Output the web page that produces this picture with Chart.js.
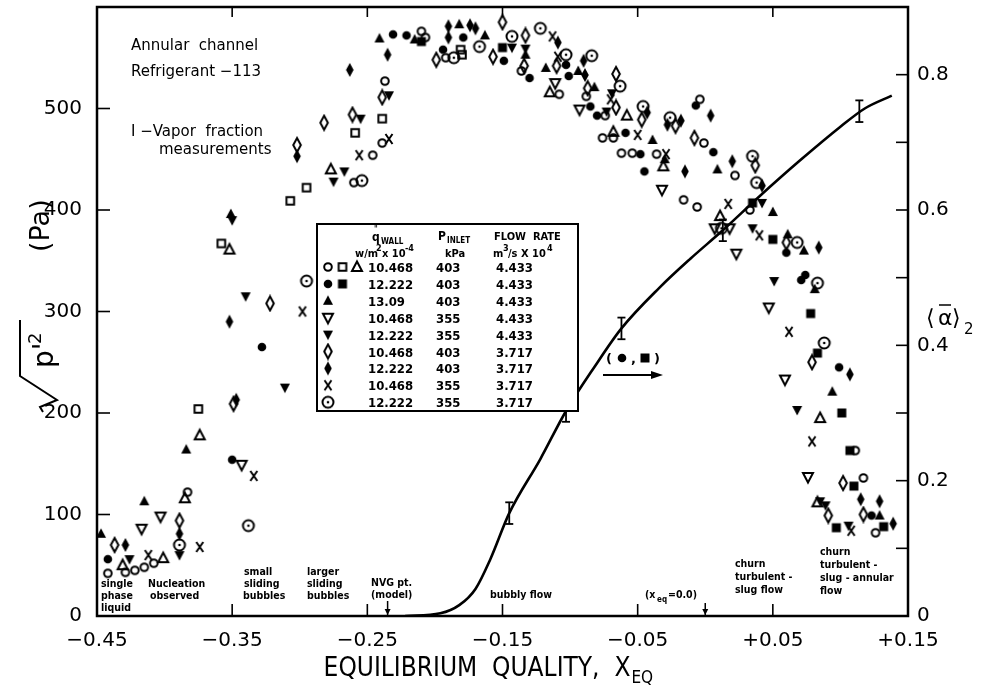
<!DOCTYPE html>
<html>
<head>
<meta charset="utf-8">
<script src="https://cdn.jsdelivr.net/npm/chart.js@4.4.1/dist/chart.umd.min.js"></script>
<style>
  html, body { margin: 0; padding: 0; background: #fff; }
  canvas { display: block; }
</style>
</head>
<body>
<canvas id="myChart" width="982" height="687"></canvas>
<script>
// ---- data (x = equilibrium quality, y = rms pressure in Pa) ----
// 10.468 / 403 / 4.433
const openCircleX = [-0.237,-0.239,-0.246,-0.260,-0.383,-0.408,-0.415,-0.422,-0.429,-0.442,-0.210,-0.207,-0.192,-0.136,-0.108,-0.088,-0.074,-0.076,-0.068,-0.062,-0.054,-0.036,-0.016,-0.006,0.033,0.111,0.117,0.126,-0.004,-0.001,0.022];
const openCircleY = [527,466,454,427,122,52,48,45,43,42,576,570,550,537,514,512,493,471,471,456,456,455,410,403,400,163,136,82,509,466,434];
const openSquareX = [-0.239,-0.259,-0.295,-0.307,-0.375,-0.181,-0.180,-0.358];
const openSquareY = [490,476,422,409,204,558,553,367];
const openTriX = [-0.277,-0.374,-0.385,-0.401,-0.431,-0.115,-0.058,-0.068,-0.031,0.011,0.085,0.083,-0.352];
const openTriY = [440,178,116,57,50,516,493,477,443,394,195,112,361];
// 12.222 / 403 / 4.433
const filledCircleX = [-0.231,-0.350,-0.442,-0.221,-0.179,-0.194,-0.149,-0.130,-0.103,-0.101,-0.085,-0.080,-0.059,-0.048,-0.045,0.060,0.074,0.071,0.099,0.123,-0.328,-0.007,0.006];
const filledCircleY = [573,154,56,572,570,558,547,530,543,532,502,493,476,455,438,358,336,331,245,99,265,503,457];
const filledSquareX = [-0.210,-0.150,0.035,0.050,0.078,0.083,0.101,0.107,0.110,0.097,0.132];
const filledSquareY = [566,560,407,371,298,259,200,163,128,87,88];
// 13.09 / 403 / 4.433
const filledTriX = [-0.241,-0.384,-0.415,-0.447,-0.215,-0.182,-0.163,-0.133,-0.118,-0.094,-0.082,-0.039,-0.030,0.050,0.061,0.073,0.081,0.094,0.129,-0.351,0.009];
const filledTriY = [569,164,113,81,568,583,572,553,540,537,521,469,450,398,376,360,322,221,99,396,440];
// 10.468 / 355 / 4.433
const openDownTriX = [-0.343,-0.403,-0.417,-0.111,-0.093,-0.032,0.007,0.018,0.023,0.047,0.059,0.076];
const openDownTriY = [149,98,86,525,499,420,382,382,357,304,233,137];
// 12.222 / 355 / 4.433
const filledDownTriX = [-0.234,-0.255,-0.275,-0.267,-0.389,-0.426,-0.143,-0.133,-0.073,-0.069,0.042,0.035,0.051,0.068,0.085,0.089,0.106,-0.350,-0.340,-0.311];
const filledDownTriY = [513,490,428,438,60,56,560,559,497,515,407,382,330,203,113,109,89,390,315,225];
// 10.468 / 403 / 3.717
const openDiamondX = [-0.239,-0.282,-0.261,-0.302,-0.349,-0.389,-0.437,-0.150,-0.133,-0.199,-0.157,-0.134,-0.110,-0.087,-0.066,-0.066,-0.047,-0.022,0.060,0.079,0.102,0.091,0.117,-0.322,-0.008,0.037];
const openDiamondY = [511,486,494,464,209,94,70,585,572,548,551,542,542,520,501,534,489,483,368,250,131,99,100,308,471,444];
// 12.222 / 403 / 3.717
const filledDiamondX = [-0.235,-0.263,-0.302,-0.347,-0.389,-0.429,-0.190,-0.174,-0.170,-0.190,-0.109,-0.090,-0.089,-0.043,-0.018,-0.028,-0.015,0.084,0.107,0.115,0.129,0.139,-0.352,0.004,0.020,0.042];
const filledDiamondY = [553,538,453,213,81,70,581,582,579,570,565,547,533,496,488,484,438,363,238,115,113,91,290,493,448,424];
// 10.468 / 355 / 3.717
const crossX = [-0.256,-0.234,-0.334,-0.374,-0.412,-0.113,-0.109,-0.070,-0.050,-0.029,0.017,0.040,0.062,0.079,0.108,-0.298];
const crossY = [454,470,138,68,60,571,551,509,474,455,406,375,280,172,84,300];
// 12.222 / 355 / 3.717
const dotCircleX = [-0.254,-0.338,-0.389,-0.143,-0.122,-0.167,-0.186,-0.103,-0.084,-0.063,-0.046,-0.026,0.012,0.068,0.083,0.088,-0.295,0.035,0.038];
const dotCircleY = [429,89,70,571,579,561,550,553,552,522,502,491,382,368,328,269,330,453,427];

// vapour fraction model curve and measurements (right axis)
const curveX = [-0.222,-0.196,-0.182,-0.170,-0.159,-0.145,-0.122,-0.103,-0.082,-0.062,-0.034,-0.011,0.013,0.040,0.070,0.100,0.118,0.138];
const curveA = [0,0.004,0.016,0.040,0.084,0.152,0.232,0.303,0.368,0.425,0.485,0.528,0.570,0.620,0.673,0.723,0.750,0.769];
const errX = [-0.145,-0.103,-0.062,0.013,0.114];
const errA = [0.152,0.303,0.425,0.570,0.746];
const errHalf = 0.016;

// ticks
const xTickVals = [-0.45,-0.35,-0.25,-0.15,-0.05,0.05,0.15];
const xTickLabels = ['\u22120.45','\u22120.35','\u22120.25','\u22120.15','\u22120.05','+0.05','+0.15'];
const yTickVals = [0,100,200,300,400,500];
const y2TickVals = [0,0.2,0.4,0.6,0.8];
const y2TickLabels = ['0','0.2','0.4','0.6','0.8'];
const y2MinorVals = [0.1,0.2,0.3,0.4,0.5,0.6,0.7,0.8];

// legend table
const legendQ = ['10.468','12.222','13.09','10.468','12.222','10.468','12.222','10.468','12.222'];
const legendP = ['403','403','403','355','355','403','403','355','355'];
const legendFlow = ['4.433','4.433','4.433','4.433','4.433','3.717','3.717','3.717','3.717'];

function marker(kind, filled) {
  const c = document.createElement('canvas');
  c.width = 18; c.height = 18;
  const g = c.getContext('2d');
  g.translate(9, 9);
  g.strokeStyle = '#000';
  g.fillStyle = '#000';
  g.lineWidth = 2;
  g.beginPath();
  if (kind == 'circle') g.arc(0, 0, filled ? 4.3 : 3.8, 0, Math.PI * 2);
  if (kind == 'square') filled ? g.rect(-4.5, -4.5, 9, 9) : g.rect(-3.8, -3.8, 7.6, 7.6);
  if (kind == 'tri') { g.moveTo(0, -5.5); g.lineTo(5, 4); g.lineTo(-5, 4); g.closePath(); }
  if (kind == 'dtri') { g.moveTo(0, 5.5); g.lineTo(5, -4); g.lineTo(-5, -4); g.closePath(); }
  if (kind == 'diamond') { g.moveTo(0, -7); g.lineTo(3.8, 0); g.lineTo(0, 7); g.lineTo(-3.8, 0); g.closePath(); }
  if (kind == 'cross') { g.moveTo(-3.5, -5); g.lineTo(3.5, 5); g.moveTo(3.5, -5); g.lineTo(-3.5, 5); }
  if (kind == 'dot') g.arc(0, 0, 5.5, 0, Math.PI * 2);
  if (filled) g.fill(); else g.stroke();
  if (kind == 'dot') { g.beginPath(); g.arc(0, 0, 1.3, 0, Math.PI * 2); g.fill(); }
  return c;
}

const mk = {
  oc: marker('circle', false), os: marker('square', false), ot: marker('tri', false),
  fc: marker('circle', true), fs: marker('square', true), ft: marker('tri', true),
  od: marker('dtri', false), fd: marker('dtri', true),
  odi: marker('diamond', false), fdi: marker('diamond', true),
  x: marker('cross', false), dot: marker('dot', false)
};

const series = [
  { xs: openCircleX, ys: openCircleY, m: mk.oc },
  { xs: openSquareX, ys: openSquareY, m: mk.os },
  { xs: openTriX, ys: openTriY, m: mk.ot },
  { xs: filledCircleX, ys: filledCircleY, m: mk.fc },
  { xs: filledSquareX, ys: filledSquareY, m: mk.fs },
  { xs: filledTriX, ys: filledTriY, m: mk.ft },
  { xs: openDownTriX, ys: openDownTriY, m: mk.od },
  { xs: filledDownTriX, ys: filledDownTriY, m: mk.fd },
  { xs: openDiamondX, ys: openDiamondY, m: mk.odi },
  { xs: filledDiamondX, ys: filledDiamondY, m: mk.fdi },
  { xs: crossX, ys: crossY, m: mk.x },
  { xs: dotCircleX, ys: dotCircleY, m: mk.dot }
];

const datasets = series.map(s => ({
  type: 'scatter',
  data: s.xs.map((v, i) => ({ x: v, y: s.ys[i] })),
  yAxisID: 'y',
  pointStyle: s.m,
  pointRadius: 5,
  order: 1
}));

datasets.push({
  type: 'line',
  data: curveX.map((v, i) => ({ x: v, y: curveA[i] })),
  yAxisID: 'y2',
  borderColor: '#000',
  borderWidth: 2.6,
  pointRadius: 0,
  cubicInterpolationMode: 'monotone',
  order: 2
});

const FONT = '"DejaVu Sans", sans-serif';
const COND = '"DejaVu Sans Condensed", "Liberation Sans Narrow", "DejaVu Sans", sans-serif';

function line(ctx, x1, y1, x2, y2) {
  ctx.beginPath(); ctx.moveTo(x1, y1); ctx.lineTo(x2, y2); ctx.stroke();
}

function downArrow(ctx, x, y1, y2) {
  line(ctx, x, y1, x, y2);
  ctx.beginPath();
  ctx.moveTo(x - 3, y2 - 6); ctx.lineTo(x, y2); ctx.lineTo(x + 3, y2 - 6); ctx.closePath();
  ctx.fill();
}

const decor = {
  id: 'decor',
  afterDraw(chart) {
    const ctx = chart.ctx, a = chart.chartArea;
    const sx = chart.scales.x, sy = chart.scales.y, sy2 = chart.scales.y2;
    ctx.save();
    ctx.strokeStyle = '#000';
    ctx.fillStyle = '#000';

    // frame
    ctx.lineWidth = 2.5;
    ctx.strokeRect(a.left, a.top, a.right - a.left, a.bottom - a.top);

    // inward ticks
    ctx.lineWidth = 1.6;
    xTickVals.slice(1, -1).forEach(v => {
      const p = sx.getPixelForValue(v);
      line(ctx, p, a.bottom, p, a.bottom - 12);
      line(ctx, p, a.top, p, a.top + 10);
    });
    yTickVals.slice(1).forEach(v => {
      const p = sy.getPixelForValue(v);
      line(ctx, a.left, p, a.left + 13, p);
    });
    y2MinorVals.forEach(v => {
      const p = sy2.getPixelForValue(v);
      line(ctx, a.right, p, a.right - 12, p);
    });

    // error bars on vapour fraction
    ctx.lineWidth = 1.8;
    errX.forEach((v, i) => {
      const px = sx.getPixelForValue(v);
      const top = sy2.getPixelForValue(errA[i] + errHalf);
      const bot = sy2.getPixelForValue(errA[i] - errHalf);
      line(ctx, px, top, px, bot);
      line(ctx, px - 4, top, px + 4, top);
      line(ctx, px - 4, bot, px + 4, bot);
    });

    ctx.textBaseline = 'alphabetic';
    ctx.textAlign = 'left';
    // x title
    ctx.font = '26px "Liberation Sans Narrow", ' + COND;
    const xt = 'EQUILIBRIUM  QUALITY,  X';
    const w = ctx.measureText(xt).width;
    const x0 = 486 - (w + 18) / 2;
    ctx.fillText(xt, x0, 676);
    ctx.font = '17px "Liberation Sans Narrow", ' + COND;
    ctx.fillText('EQ', x0 + w + 1, 683);

    // left y title (rotated)
    ctx.save();
    ctx.translate(53, 420);
    ctx.rotate(-Math.PI / 2);
    ctx.lineWidth = 2;
    ctx.beginPath();
    ctx.moveTo(8, -10); ctx.lineTo(13, -13); ctx.lineTo(20, 4); ctx.lineTo(44, -33); ctx.lineTo(100, -33);
    ctx.stroke();
    ctx.font = '28px ' + FONT;
    ctx.fillText("p'", 52, 0);
    ctx.font = '18px ' + FONT;
    ctx.fillText('2', 76, -12);
    ctx.font = '27px ' + FONT;
    ctx.fillText('(Pa)', 168, -4);
    ctx.restore();

    // right y title
    ctx.font = '22px ' + FONT;
    ctx.fillText('\u27E8', 926, 325);
    ctx.fillText('\u03B1', 938, 325);
    ctx.fillText('\u27E9', 952, 325);
    ctx.lineWidth = 1.5;
    line(ctx, 939, 305, 951, 305);
    ctx.font = '15px ' + FONT;
    ctx.fillText('2', 964, 334);

    // notes upper left
    ctx.font = '15px ' + FONT;
    ctx.fillText('Annular  channel', 131, 50);
    ctx.fillText('Refrigerant \u2212113', 131, 76);
    ctx.fillText('I \u2212Vapor  fraction', 131, 136);
    ctx.fillText('measurements', 159, 154);

    // flow regime notes along the bottom
    ctx.font = 'bold 10.5px ' + COND;
    const notes = [
      ['single', 101, 587], ['phase', 101, 599], ['liquid', 101, 611],
      ['Nucleation', 148, 587], ['observed', 150, 599],
      ['small', 244, 575], ['sliding', 244, 587], ['bubbles', 243, 599],
      ['larger', 307, 575], ['sliding', 307, 587], ['bubbles', 307, 599],
      ['NVG pt.', 371, 586], ['(model)', 371, 598],
      ['bubbly flow', 490, 598],
      ['churn', 735, 567], ['turbulent -', 735, 580], ['slug flow', 735, 593],
      ['churn', 820, 555], ['turbulent -', 820, 568], ['slug - annular', 820, 581], ['flow', 820, 594]
    ];
    notes.forEach(n => ctx.fillText(n[0], n[1], n[2]));
    ctx.fillText('(x', 645, 598);
    ctx.font = 'bold 8px ' + COND;
    ctx.fillText('eq', 657, 602);
    ctx.font = 'bold 10.5px ' + COND;
    ctx.fillText('=0.0)', 668, 598);

    ctx.lineWidth = 1.5;
    downArrow(ctx, sx.getPixelForValue(-0.235), 601, a.bottom - 1);
    downArrow(ctx, sx.getPixelForValue(0.0), 603, a.bottom - 1);

    // (filled circle, filled square) label with arrow
    ctx.font = 'bold 13px ' + FONT;
    ctx.fillText('(', 606, 363);
    ctx.drawImage(mk.fc, 613, 349);
    ctx.fillText(',', 631, 363);
    ctx.drawImage(mk.fs, 636, 349);
    ctx.fillText(')', 654, 363);
    ctx.lineWidth = 2;
    line(ctx, 603, 375, 655, 375);
    ctx.beginPath();
    ctx.moveTo(663, 375); ctx.lineTo(651, 371); ctx.lineTo(651, 379); ctx.closePath();
    ctx.fill();

    // legend table
    const L = 317, T = 224, R = 578, B = 411;
    ctx.fillStyle = '#fff';
    ctx.fillRect(L, T, R - L, B - T);
    ctx.fillStyle = '#000';
    ctx.lineWidth = 2;
    ctx.strokeRect(L, T, R - L, B - T);

    ctx.font = 'bold 12px ' + COND;
    ctx.fillText('q', 372, 241);
    ctx.font = 'bold 8px ' + COND;
    ctx.fillText('"', 374, 232);
    ctx.fillText('WALL', 381, 244);
    ctx.font = 'bold 12px ' + COND;
    ctx.fillText('P', 438, 240);
    ctx.font = 'bold 8px ' + COND;
    ctx.fillText('INLET', 447, 243);
    ctx.font = 'bold 11px ' + COND;
    ctx.fillText('FLOW  RATE', 494, 240);

    ctx.font = 'bold 11px ' + COND;
    ctx.fillText('w/m', 355, 257);
    ctx.fillText('x 10', 382, 257);
    ctx.fillText('kPa', 445, 257);
    ctx.fillText('m', 493, 257);
    ctx.fillText('/s X 10', 508, 257);
    ctx.font = 'bold 9px ' + COND;
    ctx.fillText('2', 376, 251);
    ctx.fillText('-4', 405, 251);
    ctx.fillText('3', 503, 251);
    ctx.fillText('4', 547, 251);

    const rowSyms = [[mk.oc, mk.os, mk.ot], [mk.fc, mk.fs], [mk.ft], [mk.od], [mk.fd], [mk.odi], [mk.fdi], [mk.x], [mk.dot]];
    ctx.font = 'bold 13px ' + COND;
    rowSyms.forEach((syms, i) => {
      const yy = 267 + i * 16.9;
      syms.forEach((m, j) => ctx.drawImage(m, 328 + j * 14.5 - 9, yy - 9));
      ctx.fillText(legendQ[i], 368, yy + 5);
      ctx.fillText(legendP[i], 436, yy + 5);
      ctx.fillText(legendFlow[i], 496, yy + 5);
    });

    ctx.restore();
  }
};

const ctx = document.getElementById('myChart');

new Chart(ctx, {
  data: { datasets: datasets },
  options: {
    responsive: false,
    animation: false,
    events: [],
    layout: { padding: { top: 7, left: 0, right: 0, bottom: 0 } },
    plugins: { legend: { display: false }, tooltip: { enabled: false } },
    scales: {
      x: {
        type: 'linear', min: -0.45, max: 0.15,
        grid: { display: false, drawTicks: false },
        border: { display: false },
        afterBuildTicks: s => { s.ticks = xTickVals.map(v => ({ value: v })); },
        afterFit: s => { s.height = 71; s.paddingLeft = 0; s.paddingRight = 0; },
        ticks: {
          autoSkip: false, maxRotation: 0, padding: 13, color: '#000',
          font: { family: 'DejaVu Sans', size: 20 },
          callback: (v, i) => xTickLabels[i]
        }
      },
      y: {
        type: 'linear', position: 'left', min: 0, max: 600,
        grid: { display: false, drawTicks: false },
        border: { display: false },
        afterBuildTicks: s => { s.ticks = yTickVals.map(v => ({ value: v })); },
        afterFit: s => { s.width = 97; s.paddingTop = 0; s.paddingBottom = 0; },
        ticks: { padding: 15, color: '#000', font: { family: 'DejaVu Sans', size: 20 } }
      },
      y2: {
        type: 'linear', position: 'right', min: 0, max: 0.9,
        grid: { display: false, drawTicks: false },
        border: { display: false },
        afterBuildTicks: s => { s.ticks = y2TickVals.map(v => ({ value: v })); },
        afterFit: s => { s.width = 74; s.paddingTop = 0; s.paddingBottom = 0; },
        ticks: {
          padding: 9, color: '#000', font: { family: 'DejaVu Sans', size: 20 },
          callback: (v, i) => y2TickLabels[i]
        }
      }
    }
  },
  plugins: [decor]
});
</script>
</body>
</html>
